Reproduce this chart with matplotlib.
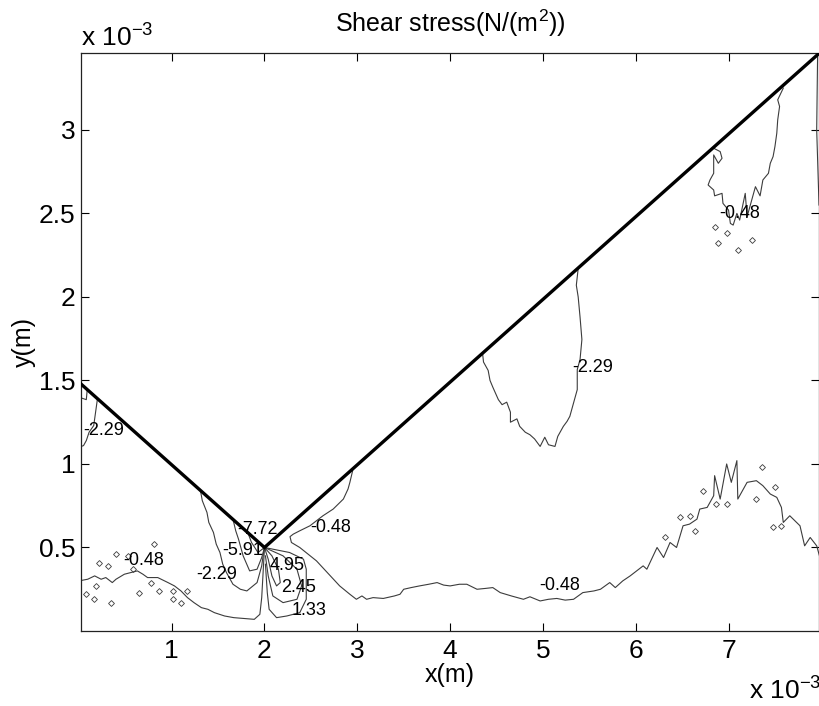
import numpy as np
import matplotlib.pyplot as plt

plt.rcParams['font.family'] = ['Liberation Sans', 'DejaVu Sans']
plt.rcParams['mathtext.default'] = 'regular'

# =========================
# Data (x, y in units of 1e-3 m)
# =========================
# thick V-shaped boundary
v_x = [0.0, 2.0, 8.0]
v_y = [1.49, 0.5, 3.47]

# contour -0.48, long line right of the vertex
c048_right = [
    (2.95, 0.96), (2.92, 0.89), (2.90, 0.85), (2.85, 0.79), (2.74, 0.73), (2.63, 0.69),
    (2.49, 0.63), (2.38, 0.60), (2.31, 0.58), (2.275, 0.565), (2.29, 0.53), (2.38, 0.50),
    (2.56, 0.42), (2.71, 0.33), (2.81, 0.27), (2.92, 0.22), (2.99, 0.19), (3.05, 0.21),
    (3.10, 0.19), (3.17, 0.20), (3.28, 0.195), (3.40, 0.21), (3.46, 0.22), (3.50, 0.25),
    (3.58, 0.26), (3.67, 0.27), (3.77, 0.28), (3.86, 0.29), (3.93, 0.275), (4.00, 0.27),
    (4.10, 0.28), (4.18, 0.28), (4.29, 0.25), (4.38, 0.255), (4.46, 0.26), (4.54, 0.23),
    (4.66, 0.21), (4.79, 0.19), (4.86, 0.205), (4.97, 0.18), (5.06, 0.19), (5.15, 0.195),
    (5.24, 0.185), (5.33, 0.19), (5.43, 0.23), (5.55, 0.24), (5.62, 0.25), (5.72, 0.29),
    (5.78, 0.26), (5.86, 0.30), (5.94, 0.33), (6.01, 0.36), (6.08, 0.39), (6.12, 0.37),
    (6.23, 0.50), (6.30, 0.44), (6.37, 0.53), (6.44, 0.50), (6.51, 0.63), (6.58, 0.64),
    (6.66, 0.67), (6.69, 0.73), (6.77, 0.74), (6.84, 0.81), (6.85, 0.93), (6.91, 0.79),
    (6.98, 1.00), (7.03, 0.89), (7.09, 1.02), (7.10, 0.79), (7.20, 0.89), (7.30, 0.90),
    (7.37, 0.87), (7.45, 0.82), (7.52, 0.80), (7.57, 0.74), (7.59, 0.65), (7.66, 0.69),
    (7.77, 0.63), (7.82, 0.51), (7.88, 0.56), (7.95, 0.51), (7.98, 0.45),
]

# contour -0.48, bottom left, running into the vertex
c048_left = [
    (0.0, 0.30), (0.095, 0.31), (0.17, 0.33), (0.24, 0.31), (0.29, 0.32), (0.36, 0.29),
    (0.40, 0.31), (0.49, 0.34), (0.56, 0.35), (0.63, 0.36), (0.69, 0.34), (0.74, 0.32),
    (0.85, 0.32), (0.96, 0.29), (1.03, 0.27), (1.10, 0.24), (1.17, 0.20), (1.24, 0.17),
    (1.32, 0.14), (1.39, 0.13), (1.46, 0.11), (1.57, 0.09), (1.67, 0.08), (1.78, 0.075),
    (1.89, 0.07), (1.95, 0.10), (1.97, 0.20), (1.985, 0.35), (2.0, 0.5),
]

# contour -0.48, upper right pocket
c048_top = [
    (6.84, 2.89), (6.91, 2.87), (6.93, 2.83), (6.89, 2.80), (6.84, 2.85), (6.84, 2.74),
    (6.80, 2.70), (6.78, 2.67), (6.84, 2.64), (6.85, 2.605), (6.93, 2.62), (6.94, 2.56),
    (7.00, 2.52), (7.02, 2.44), (7.05, 2.43), (7.09, 2.50), (7.12, 2.46), (7.18, 2.62),
    (7.20, 2.48), (7.25, 2.58), (7.29, 2.66), (7.34, 2.605), (7.37, 2.70), (7.43, 2.74),
    (7.45, 2.80), (7.48, 2.84), (7.50, 2.90), (7.52, 2.98), (7.53, 3.06), (7.55, 3.14),
    (7.53, 3.18), (7.59, 3.25),
]
c048_edge = [(7.96, 3.46), (7.95, 3.00), (7.975, 2.55)]

# contour -2.29
c229_edge = [(0.20, 1.39), (0.18, 1.31), (0.16, 1.23), (0.11, 1.19), (0.08, 1.14),
             (0.05, 1.11), (0.0, 1.10)]
c229_hook = [(0.0, 1.40), (0.08, 1.385), (0.09, 1.445)]
c229_mid = [
    (4.35, 1.66), (4.36, 1.61), (4.41, 1.56), (4.43, 1.50), (4.46, 1.46), (4.52, 1.385),
    (4.56, 1.355), (4.61, 1.37), (4.65, 1.31), (4.65, 1.25), (4.72, 1.27), (4.75, 1.225),
    (4.81, 1.19), (4.86, 1.175), (4.91, 1.15), (4.97, 1.105), (5.02, 1.16), (5.06, 1.115),
    (5.13, 1.105), (5.16, 1.165), (5.22, 1.225), (5.26, 1.255), (5.29, 1.285), (5.33, 1.365),
    (5.37, 1.445), (5.37, 1.565), (5.40, 1.625), (5.42, 1.745), (5.40, 1.88), (5.38, 2.00),
    (5.36, 2.07), (5.38, 2.17),
]
c229_vertex = [
    (1.31, 0.84), (1.33, 0.78), (1.38, 0.71), (1.40, 0.65), (1.45, 0.59), (1.48, 0.52),
    (1.52, 0.47), (1.55, 0.40), (1.59, 0.35), (1.66, 0.28), (1.74, 0.25), (1.81, 0.24),
    (1.92, 0.29), (1.97, 0.39), (1.995, 0.49),
]

# contours -5.91 and -7.72
c591 = [(1.66, 0.67), (1.69, 0.60), (1.72, 0.55), (1.77, 0.45), (1.84, 0.36), (1.92, 0.37),
        (1.97, 0.44), (2.0, 0.5)]
c772 = [(1.82, 0.59), (1.86, 0.53), (1.93, 0.47), (2.0, 0.5)]

# positive contours below the vertex
c495 = [(2.0, 0.5), (2.08, 0.45), (2.15, 0.37), (2.17, 0.29), (2.13, 0.27), (2.08, 0.33),
        (2.04, 0.43), (2.0, 0.5)]
c245 = [(2.0, 0.5), (2.20, 0.45), (2.35, 0.37), (2.40, 0.27), (2.35, 0.19), (2.20, 0.17),
        (2.09, 0.21), (2.04, 0.33), (2.01, 0.45)]
c133 = [(2.0, 0.5), (2.27, 0.47), (2.42, 0.43), (2.45, 0.37), (2.45, 0.19), (2.38, 0.11),
        (2.24, 0.09), (2.13, 0.08), (2.05, 0.13), (2.03, 0.23), (2.01, 0.40)]

contours = [c048_right, c048_left, c048_top, c048_edge, c229_edge, c229_hook, c229_mid,
            c229_vertex, c591, c772, c495, c245, c133]

# tiny closed islands of the noisy -0.48 level
island_x = [0.22, 0.31, 0.40, 0.53, 0.58, 0.78, 0.18, 0.08, 0.16, 0.86, 1.01, 1.01, 1.17,
            1.10, 0.65, 0.35, 0.81,
            6.48, 6.59, 6.32, 6.87, 6.98, 7.36, 7.30, 7.50, 7.57, 7.48, 6.64, 6.73,
            6.85, 6.98, 7.25, 7.10, 6.89]
island_y = [0.41, 0.39, 0.46, 0.45, 0.37, 0.29, 0.27, 0.22, 0.19, 0.24, 0.24, 0.19, 0.24,
            0.17, 0.23, 0.17, 0.52,
            0.68, 0.69, 0.56, 0.76, 0.76, 0.98, 0.79, 0.86, 0.63, 0.62, 0.60, 0.84,
            2.42, 2.38, 2.34, 2.28, 2.32]

# contour labels
label_text = ['-0.48', '-0.48', '-0.48', '-0.48', '-2.29', '-2.29', '-2.29',
              '-5.91', '-7.72', '4.95', '2.45', '1.33']
label_x = [7.12, 5.18, 2.71, 0.70, 0.27, 5.54, 1.49, 1.76, 1.92, 2.24, 2.37, 2.48]
label_y = [2.50, 0.27, 0.62, 0.42, 1.20, 1.58, 0.34, 0.48, 0.61, 0.39, 0.26, 0.12]

x_ticks = [1, 2, 3, 4, 5, 6, 7]
y_ticks = [0.5, 1, 1.5, 2, 2.5, 3]
y_tick_labels = ['0.5', '1', '1.5', '2', '2.5', '3']

# =========================
# Plot
# =========================
fig = plt.figure(figsize=(8.2, 7.06), dpi=100)
ax = fig.add_axes([0.0988, 0.1062, 0.9, 0.8187])

line_col = '#3c3c3c'
for c in contours:
    xs, ys = zip(*c)
    ax.plot(xs, ys, color=line_col, lw=0.8)

ax.plot(island_x, island_y, linestyle='none', marker='D', markersize=3,
        markerfacecolor='none', markeredgecolor=line_col, markeredgewidth=0.6)

ax.plot(v_x, v_y, color='black', lw=2.4, solid_joinstyle='miter', zorder=5)

for t, x, y in zip(label_text, label_x, label_y):
    ax.text(x, y, t, fontsize=13, ha='center', va='center', zorder=6)

ax.set_xlim(0.023, 7.975)
ax.set_ylim(0, 3.46)
ax.set_xticks(x_ticks)
ax.set_yticks(y_ticks)
ax.set_xticklabels([str(t) for t in x_ticks])
ax.set_yticklabels(y_tick_labels)
ax.tick_params(direction='in', length=6, width=0.8, labelsize=19,
               top=True, right=True)
ax.tick_params(axis='x', pad=6)
ax.tick_params(axis='y', pad=4)
for s in ax.spines.values():
    s.set_linewidth(0.9)
    s.set_color('#222222')

ax.set_title('Shear stress(N/(m$^2$))', fontsize=18, pad=15)
ax.set_xlabel('x(m)', fontsize=18, labelpad=0)
ax.set_ylabel('y(m)', fontsize=18, labelpad=2)

fig.text(81 / 820, 1 - 47 / 706, 'x 10$^{-3}$', fontsize=19, ha='left', va='baseline')
fig.text(821 / 820, 1 - 700 / 706, 'x 10$^{-3}$', fontsize=19, ha='right', va='baseline')

fig.savefig('out.png', dpi=100)
